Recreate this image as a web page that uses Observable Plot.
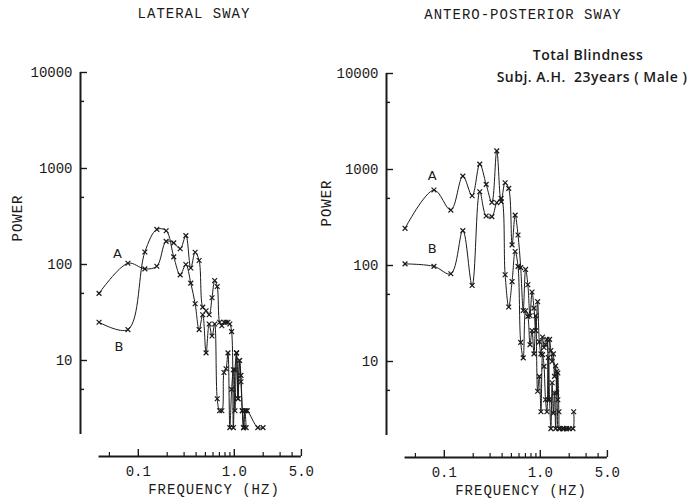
<!DOCTYPE html>
<html>
<head>
<meta charset="utf-8">
<script src="https://cdn.jsdelivr.net/npm/d3@7"></script>
<script src="https://cdn.jsdelivr.net/npm/@observablehq/plot@0.6"></script>
<style>
  body { margin: 0; background: #fff; }
  #wrap { position: relative; width: 692px; height: 501px; overflow: hidden; background: #fff; }
  .t { position: absolute; transform: translate(-50%, -50%); white-space: pre; line-height: 1; color: #1a1a1a; }
  .mono { font-family: "Liberation Mono", "DejaVu Sans Mono", monospace; font-size: 14px; letter-spacing: 1px; }
  .sans { font-family: "Open Sans", "DejaVu Sans", sans-serif; font-size: 14px; font-weight: 600; letter-spacing: 0.5px; }
  .rot { transform: translate(-50%, -50%) rotate(-90deg); }
  .panel { position: absolute; }
</style>
</head>
<body>
<div id="wrap">
  <div class="t mono" style="left:194px; top:14px;">LATERAL SWAY</div>
  <div class="t mono" style="left:523px; top:15px;">ANTERO-POSTERIOR SWAY</div>
  <div class="t sans" style="left:588px; top:55px;">Total Blindness</div>
  <div class="t sans" style="left:592px; top:77px;">Subj. A.H.  23years ( Male )</div>
  <div class="t mono rot" style="left:18px; top:218px;">POWER</div>
  <div class="t mono rot" style="left:327px; top:203px;">POWER</div>
  <div class="t mono" style="left:214px; top:490px;">FREQUENCY (HZ)</div>
  <div class="t mono" style="left:521px; top:491px;">FREQUENCY (HZ)</div>
  <div id="left" class="panel" style="left:0px; top:0px;"></div>
  <div id="right" class="panel" style="left:306px; top:1px;"></div>
</div>
<script>
// ---------- DATA ----------
// Lateral sway, curve A
const latFreqA = [0.039,0.078,0.117,0.156,0.195,0.234,0.273,0.313,0.352,0.391,0.430,0.469,0.508,0.547,0.586,0.625,0.664,0.703,0.742,0.781,0.820,0.859,0.898,0.938,0.977,1.016,1.055,1.094,1.133,1.172,1.211,1.25,1.289,1.328,1.367,1.758,1.992];
const latPowA  = [50,103,90,96,174,168,146,200,92,134,110,36,33,30,45,68,59,25,23,25,25,25,24,20,2,8,12,4,10,7,3,2,3,3,3,2,2];
// Lateral sway, curve B
const latFreqB = [0.039,0.078,0.117,0.156,0.195,0.234,0.273,0.313,0.352,0.391,0.430,0.469,0.508,0.547,0.586,0.625,0.664,0.703,0.742,0.781,0.820,0.859,0.898,0.938,0.977,1.016,1.055,1.094,1.133,1.172,1.211,1.25,1.289,1.328];
const latPowB  = [25,21,135,232,225,120,78,100,64,39,21,30,12,24,18,24,4,3,3,7.5,8.2,12,2,5,8,3,12,4,10,6,3,2,3,2];
// Antero-posterior sway, curve A
const apFreqA = [0.039,0.078,0.117,0.156,0.195,0.234,0.273,0.313,0.352,0.391,0.430,0.469,0.508,0.547,0.586,0.625,0.664,0.703,0.742,0.781,0.820,0.859,0.898,0.938,0.977,1.016,1.055,1.094,1.133,1.172,1.211,1.25,1.289,1.328,1.367,1.406,1.445,1.484,1.523,1.563,1.602,1.719,1.758,1.875,1.992,2.188,2.227];
const apPowA  = [244,611,378,853,533,1137,700,455,1563,462,728,636,164,335,208,95,34,91,63,30,53,36,21,42,16,12,18,14,15,17,4,17,13,10,12,7,9,4.7,7.6,3,2,2,2,2,2,2,3];
// Antero-posterior sway, curve B
const apFreqB = [0.039,0.078,0.117,0.156,0.195,0.234,0.273,0.313,0.352,0.391,0.430,0.469,0.508,0.547,0.586,0.625,0.664,0.703,0.742,0.781,0.820,0.859,0.898,0.938,0.977,1.016,1.055,1.094,1.133,1.172,1.211,1.25,1.289,1.328,1.367,1.406,1.445,1.484,1.523,1.563,1.758,1.875];
const apPowB  = [104,98,82,231,62,587,328,323,451,500,80,37,68,140,98,15.8,10.9,33.8,29.5,15,21,12,30,4.9,7,3,11.8,8.9,4,3,11,4,2,6,2.9,4.7,2,7.9,4,2,2,2];

// Axis tick values and labels
const yMajor = [10, 100, 1000, 10000];
const yMinor = [5, 50, 500, 5000];
const xMajor = [0.1, 1, 5];
const xMajorLabels = ["0.1", "1.0", "5.0"];
const xMinor = [0.05, 0.2, 0.3, 0.4, 0.5, 0.6, 0.7, 0.8, 0.9, 2, 3, 4];
const xAxisExtent = [0.039, 5];
const yAxisExtent = [1.7, 10000];

// Curve labels
const latLabels = [{f: 0.0605, p: 130, t: "A"}, {f: 0.063, p: 14, t: "B"}];
const apLabels  = [{f: 0.075, p: 850, t: "A"}, {f: 0.075, p: 150, t: "B"}];

// ---------- CHART ----------
const rows = (fs, ps) => fs.map((f, i) => ({f, p: ps[i]}));
const ink = "#1a1a1a";
const monoFont = "Liberation Mono, DejaVu Sans Mono, monospace";
const W = 346, H = 501, ML = 80, MR = 25.5, MT = 72, MB = 45;
const frameW = W - ML - MR, frameH = H - MT - MB;

function panel(fA, pA, fB, pB, labels) {
  const A = rows(fA, pA), B = rows(fB, pB);
  const xLabelRows = xMajor.map((f, i) => ({f, t: xMajorLabels[i]}));
  return Plot.plot({
    width: W, height: H,
    marginLeft: ML, marginRight: MR, marginTop: MT, marginBottom: MB,
    style: {background: "transparent", fontFamily: monoFont, fontSize: "14px", color: ink},
    x: {type: "log", domain: [0.025, 8], axis: null},
    y: {type: "log", domain: [1, 10000], axis: null},
    marks: [
      // axis lines
      Plot.ruleX([0.025], {y1: yAxisExtent[0], y2: yAxisExtent[1], stroke: ink, strokeWidth: 2}),
      Plot.ruleY([1], {x1: xAxisExtent[0], x2: xAxisExtent[1], stroke: ink, strokeWidth: 2}),
      // inward ticks
      Plot.tickY(yMajor, {y: d => d, insetRight: frameW - 7, stroke: ink, strokeWidth: 1.4}),
      Plot.tickY(yMinor, {y: d => d, insetRight: frameW - 4, stroke: ink, strokeWidth: 1.4}),
      Plot.tickX(xMajor, {x: d => d, insetTop: frameH - 7, stroke: ink, strokeWidth: 1.4}),
      Plot.tickX(xMinor, {x: d => d, insetTop: frameH - 4, stroke: ink, strokeWidth: 1.2}),
      // tick labels
      Plot.axisY(yMajor, {anchor: "left", tickSize: 0, tickPadding: 8, tickFormat: d => String(d), label: null, fill: ink}),
      Plot.text(xLabelRows, {x: "f", y: () => 1, text: "t", dy: 15, fill: ink, fontFamily: monoFont, fontSize: 14, letterSpacing: 1}),
      // data
      Plot.line(A, {x: "f", y: "p", curve: "catmull-rom", stroke: ink, strokeWidth: 1}),
      Plot.line(B, {x: "f", y: "p", curve: "catmull-rom", stroke: ink, strokeWidth: 1}),
      Plot.dot(A, {x: "f", y: "p", symbol: "times", r: 2.3, stroke: ink, strokeWidth: 1.2}),
      Plot.dot(B, {x: "f", y: "p", symbol: "times", r: 2.3, stroke: ink, strokeWidth: 1.2}),
      Plot.text(labels, {x: "f", y: "p", text: "t", fontFamily: "DejaVu Sans, sans-serif", fontSize: 13, fill: ink})
    ]
  });
}

document.getElementById("left").append(panel(latFreqA, latPowA, latFreqB, latPowB, latLabels));
document.getElementById("right").append(panel(apFreqA, apPowA, apFreqB, apPowB, apLabels));
</script>
</body>
</html>
